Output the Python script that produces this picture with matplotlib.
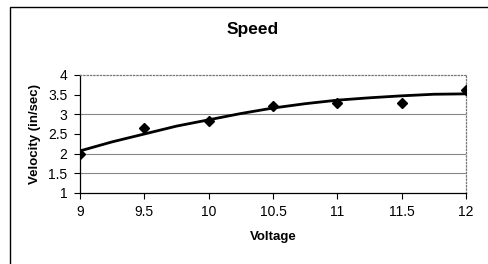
import matplotlib
matplotlib.use("Agg")
import matplotlib.pyplot as plt
from matplotlib.patches import Rectangle

plt.rcParams['font.family'] = ['Liberation Sans', 'DejaVu Sans']

# measured points
voltage = [9, 9.5, 10, 10.5, 11, 11.5, 12]
velocity = [2.0, 2.65, 2.83, 3.2, 3.3, 3.3, 3.62]

# trend line
trend_x = [9, 9.25, 9.5, 9.75, 10, 10.25, 10.5, 10.75, 11, 11.25, 11.5, 11.75, 12]
trend_y = [2.07, 2.3, 2.5, 2.7, 2.86, 3.02, 3.16, 3.27, 3.36, 3.42, 3.47, 3.51, 3.52]

x_ticks = [9, 9.5, 10, 10.5, 11, 11.5, 12]
y_ticks = [1, 1.5, 2, 2.5, 3, 3.5, 4]
grid_levels = [1.5, 2, 3]

fig = plt.figure(figsize=(4.88, 2.64), dpi=100)
ax = fig.add_axes([0.164, 0.269, 0.791, 0.447])

for g in grid_levels:
    ax.axhline(g, color="#888888", lw=0.8, zorder=1)

ax.plot(trend_x, trend_y, color="black", lw=2, zorder=3)
ax.plot(voltage, velocity, linestyle="none", marker="D", color="black",
        markersize=5, zorder=4)

ax.set_xlim(9, 12)
ax.set_ylim(1, 4)
ax.set_xticks(x_ticks)
ax.set_xticklabels(["9", "9.5", "10", "10.5", "11", "11.5", "12"])
ax.set_yticks(y_ticks)
ax.set_yticklabels(["1", "1.5", "2", "2.5", "3", "3.5", "4"])
ax.tick_params(labelsize=10, length=4, width=0.8, pad=5)

for s in ["left", "bottom"]:
    ax.spines[s].set_color("black")
    ax.spines[s].set_linewidth(0.9)
for s in ["top", "right"]:
    ax.spines[s].set_color("#777777")
    ax.spines[s].set_linestyle(":")
    ax.spines[s].set_linewidth(0.9)

ax.set_xlabel("Voltage", fontsize=9.5, fontweight="bold", labelpad=8)
ax.set_ylabel("Velocity (in/sec)", fontsize=9.5, fontweight="bold", labelpad=5)
fig.text(0.518, 0.89, "Speed", ha="center", va="center",
         fontsize=12.5, fontweight="bold")

# outer chart frame (partly cut off)
fig.patches.append(Rectangle((0.02, -0.1), 1.1, 1.073, transform=fig.transFigure,
                             fill=False, edgecolor="black", lw=1))

fig.savefig("out.png", dpi=100)
